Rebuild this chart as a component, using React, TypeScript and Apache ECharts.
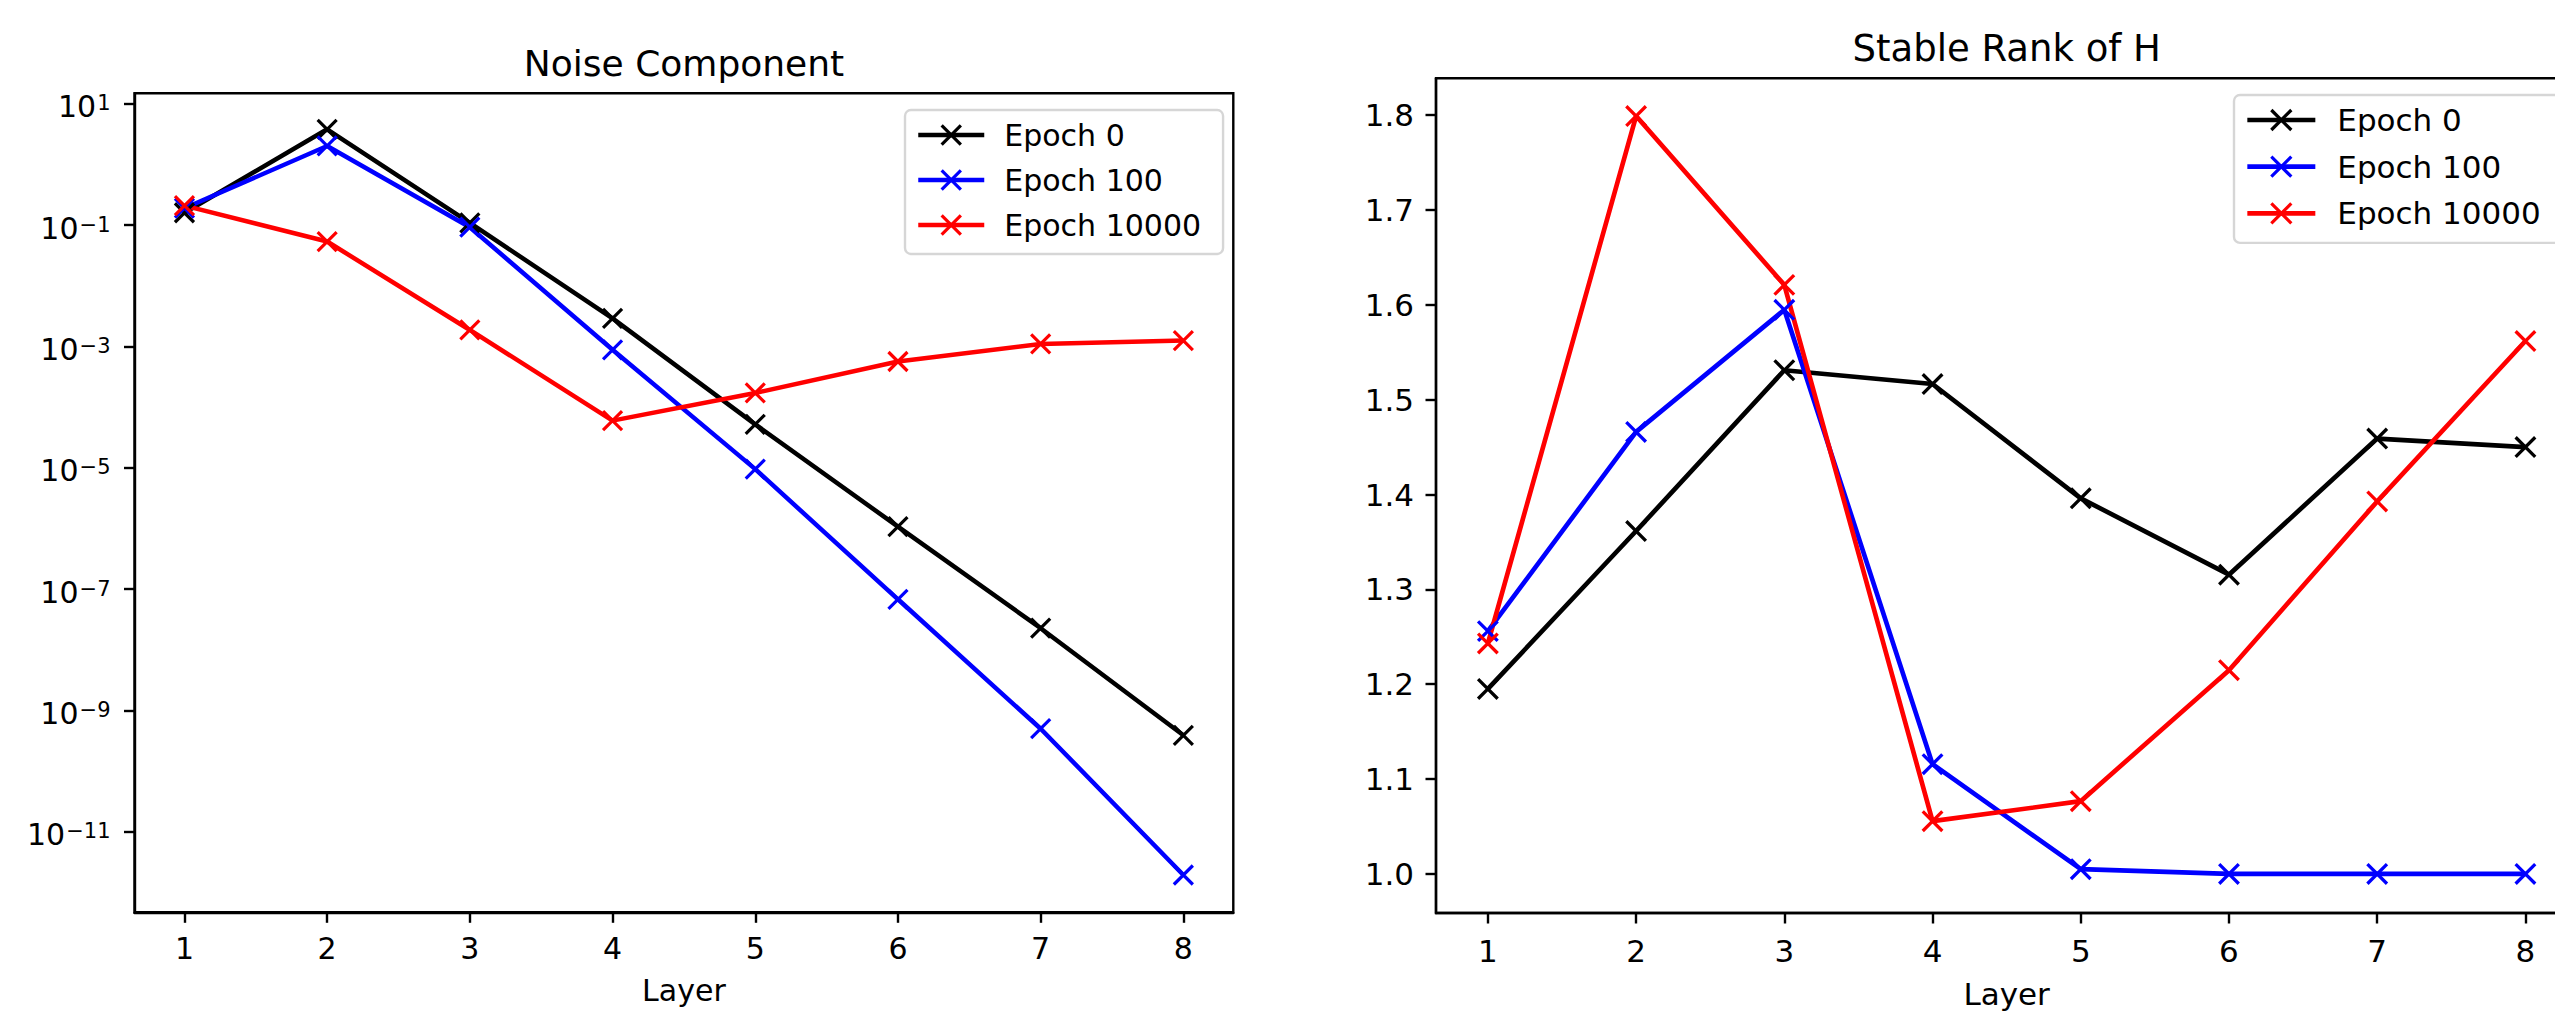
import React, { useEffect, useRef } from "react";
import * as echarts from "echarts";

// ---- data ----
const layers = [1, 2, 3, 4, 5, 6, 7, 8];
const seriesNames = ["Epoch 0", "Epoch 100", "Epoch 10000"];
const seriesColors = ["#000000", "#0000ff", "#ff0000"];

// Noise component (log scale)
const noiseEpoch0 = [0.16, 3.8, 0.109, 2.9e-3, 5.2e-5, 1.07e-6, 2.27e-8, 3.9e-10];
const noiseEpoch100 = [0.19, 2.02, 0.0925, 8.8e-4, 9.5e-6, 6.8e-8, 5.0e-10, 1.94e-12];
const noiseEpoch10000 = [0.21, 0.0537, 1.87e-3, 6.0e-5, 1.71e-4, 5.65e-4, 1.1e-3, 1.25e-3];

// Stable rank of H
const rankEpoch0 = [1.195, 1.3615, 1.531, 1.5165, 1.396, 1.3155, 1.459, 1.45];
const rankEpoch100 = [1.256, 1.466, 1.5947, 1.1157, 1.005, 1.0, 1.0, 1.0];
const rankEpoch10000 = [1.243, 1.799, 1.621, 1.0556, 1.0767, 1.2148, 1.3927, 1.5618];

// tick labels
const layerTicks = [1, 2, 3, 4, 5, 6, 7, 8];
const noiseTickExponents = [-11, -9, -7, -5, -3, -1, 1];
const rankTicks = [1.0, 1.1, 1.2, 1.3, 1.4, 1.5, 1.6, 1.7, 1.8];

const FONT = "DejaVu Sans";
const XMARK = "path://M0,0L10,10M10,0L0,10";

function buildOption() {
  const noiseSets = [noiseEpoch0, noiseEpoch100, noiseEpoch10000];
  const rankSets = [rankEpoch0, rankEpoch100, rankEpoch10000];

  const mkSeries = (
    name: string,
    color: string,
    data: number[][],
    idx: number,
    lw: number,
    ms: number,
    mw: number
  ) => ({
    type: "line",
    name,
    xAxisIndex: idx,
    yAxisIndex: idx,
    data,
    symbol: XMARK,
    symbolSize: ms,
    showSymbol: true,
    lineStyle: { width: lw, color },
    itemStyle: { color, borderColor: color, borderWidth: mw },
    emphasis: { disabled: true },
  });

  const series: any[] = [];
  noiseSets.forEach((vals, i) => {
    series.push(
      mkSeries(
        seriesNames[i],
        seriesColors[i],
        layers.map((x, k) => [x, Math.log10(vals[k])]),
        0,
        4.5,
        19,
        3.2
      )
    );
  });
  rankSets.forEach((vals, i) => {
    series.push(
      mkSeries(
        seriesNames[i],
        seriesColors[i],
        layers.map((x, k) => [x, vals[k]]),
        1,
        4.66,
        19.6,
        3.3
      )
    );
  });

  const axisCommon = (fs: number) => ({
    axisLine: { show: true, onZero: false, lineStyle: { color: "#000", width: 2.4 } },
    axisTick: { show: true, length: 10.5, lineStyle: { color: "#000", width: 2.4 } },
    splitLine: { show: false },
    axisLabel: { color: "#000", fontSize: fs, fontFamily: FONT },
  });

  const supLabel = (v: number) => {
    const n = Math.round(v);
    const s = (n < 0 ? "\u2212" : "") + Math.abs(n);
    return `{b|10}{s|${s}}`;
  };

  const legendCommon = (
    fs: number,
    iw: number,
    ih: number,
    gap: number,
    pad: number[],
    textPad: number,
    lw: number
  ) => ({
    orient: "vertical",
    data: seriesNames,
    itemWidth: iw,
    itemHeight: ih,
    itemGap: gap,
    padding: pad,
    selectedMode: false,
    textStyle: { fontSize: fs, fontFamily: FONT, color: "#000", padding: [0, 0, 0, textPad] },
    backgroundColor: "rgba(255,255,255,0.8)",
    borderColor: "#d6d6d6",
    borderWidth: 2.4,
    borderRadius: 6,
    itemStyle: { borderWidth: 3.2 },
    lineStyle: { width: lw },
  });

  return {
    animation: false,
    backgroundColor: "#ffffff",
    textStyle: { fontFamily: FONT },
    title: [
      {
        text: "Noise Component",
        left: 684,
        top: 63.5,
        padding: 0,
        textAlign: "center",
        textVerticalAlign: "middle",
        textStyle: { fontSize: 36, fontWeight: "normal", fontFamily: FONT, color: "#000" },
      },
      {
        text: "Stable Rank of H",
        left: 2006.7,
        top: 48.5,
        padding: 0,
        textAlign: "center",
        textVerticalAlign: "middle",
        textStyle: { fontSize: 37, fontWeight: "normal", fontFamily: FONT, color: "#000" },
      },
    ],
    legend: [
      { ...legendCommon(30, 66, 24, 15, [10, 22, 14, 11], 15, 4.5), left: 905, top: 110 },
      { ...legendCommon(31, 68, 25, 15.7, [9.5, 22, 14, 11], 17, 4.66), left: 2234, top: 95 },
    ],
    grid: [
      {
        left: 134.5,
        top: 93.3,
        width: 1098.8,
        height: 819,
        show: true,
        borderColor: "#000",
        borderWidth: 2.4,
        backgroundColor: "transparent",
      },
      {
        left: 1436,
        top: 78.3,
        width: 1141.3,
        height: 847.4,
        show: true,
        borderColor: "#000",
        borderWidth: 2.4,
        backgroundColor: "transparent",
      },
    ],
    xAxis: [
      {
        type: "value",
        gridIndex: 0,
        min: 0.65,
        max: 8.35,
        ...axisCommon(30),
        axisTick: { ...axisCommon(30).axisTick, customValues: layerTicks },
        axisLabel: { ...axisCommon(30).axisLabel, margin: 21, customValues: layerTicks },
        name: "Layer",
        nameLocation: "middle",
        nameGap: 62.7,
        nameTextStyle: { fontSize: 30, fontFamily: FONT, color: "#000" },
      },
      {
        type: "value",
        gridIndex: 1,
        min: 0.65,
        max: 8.35,
        ...axisCommon(31),
        axisTick: { ...axisCommon(31).axisTick, customValues: layerTicks },
        axisLabel: { ...axisCommon(31).axisLabel, margin: 22, customValues: layerTicks },
        name: "Layer",
        nameLocation: "middle",
        nameGap: 65,
        nameTextStyle: { fontSize: 31, fontFamily: FONT, color: "#000" },
      },
    ],
    yAxis: [
      {
        type: "value",
        gridIndex: 0,
        min: -12.327,
        max: 1.173,
        ...axisCommon(30),
        axisTick: { ...axisCommon(30).axisTick, customValues: noiseTickExponents },
        axisLabel: {
          ...axisCommon(30).axisLabel,
          margin: 24,
          customValues: noiseTickExponents,
          formatter: supLabel,
          rich: {
            b: { fontSize: 30, fontFamily: FONT, color: "#000", lineHeight: 30, padding: [6, 0, 0, 0] },
            s: {
              fontSize: 21,
              fontFamily: FONT,
              color: "#000",
              lineHeight: 21,
              verticalAlign: "top",
              padding: [4, 0, 0, 1],
            },
          },
        },
      },
      {
        type: "value",
        gridIndex: 1,
        min: 0.9588,
        max: 1.8388,
        ...axisCommon(31),
        axisTick: { ...axisCommon(31).axisTick, customValues: rankTicks },
        axisLabel: {
          ...axisCommon(31).axisLabel,
          margin: 22,
          customValues: rankTicks,
          formatter: (v: number) => v.toFixed(1),
        },
      },
    ],
    series,
  };
}

export default function App() {
  const ref = useRef<HTMLDivElement>(null);
  useEffect(() => {
    if (!ref.current) return;
    const chart = echarts.init(ref.current, undefined, { renderer: "svg" });
    chart.setOption(buildOption() as any);
    return () => {
      chart.dispose();
    };
  }, []);
  return (
    <div
      style={{
        position: "fixed",
        left: 0,
        top: 0,
        width: "2555px",
        height: "1014px",
        overflow: "hidden",
        background: "#fff",
      }}
    >
      <div ref={ref} style={{ width: "2600px", height: "1014px" }} />
    </div>
  );
}
